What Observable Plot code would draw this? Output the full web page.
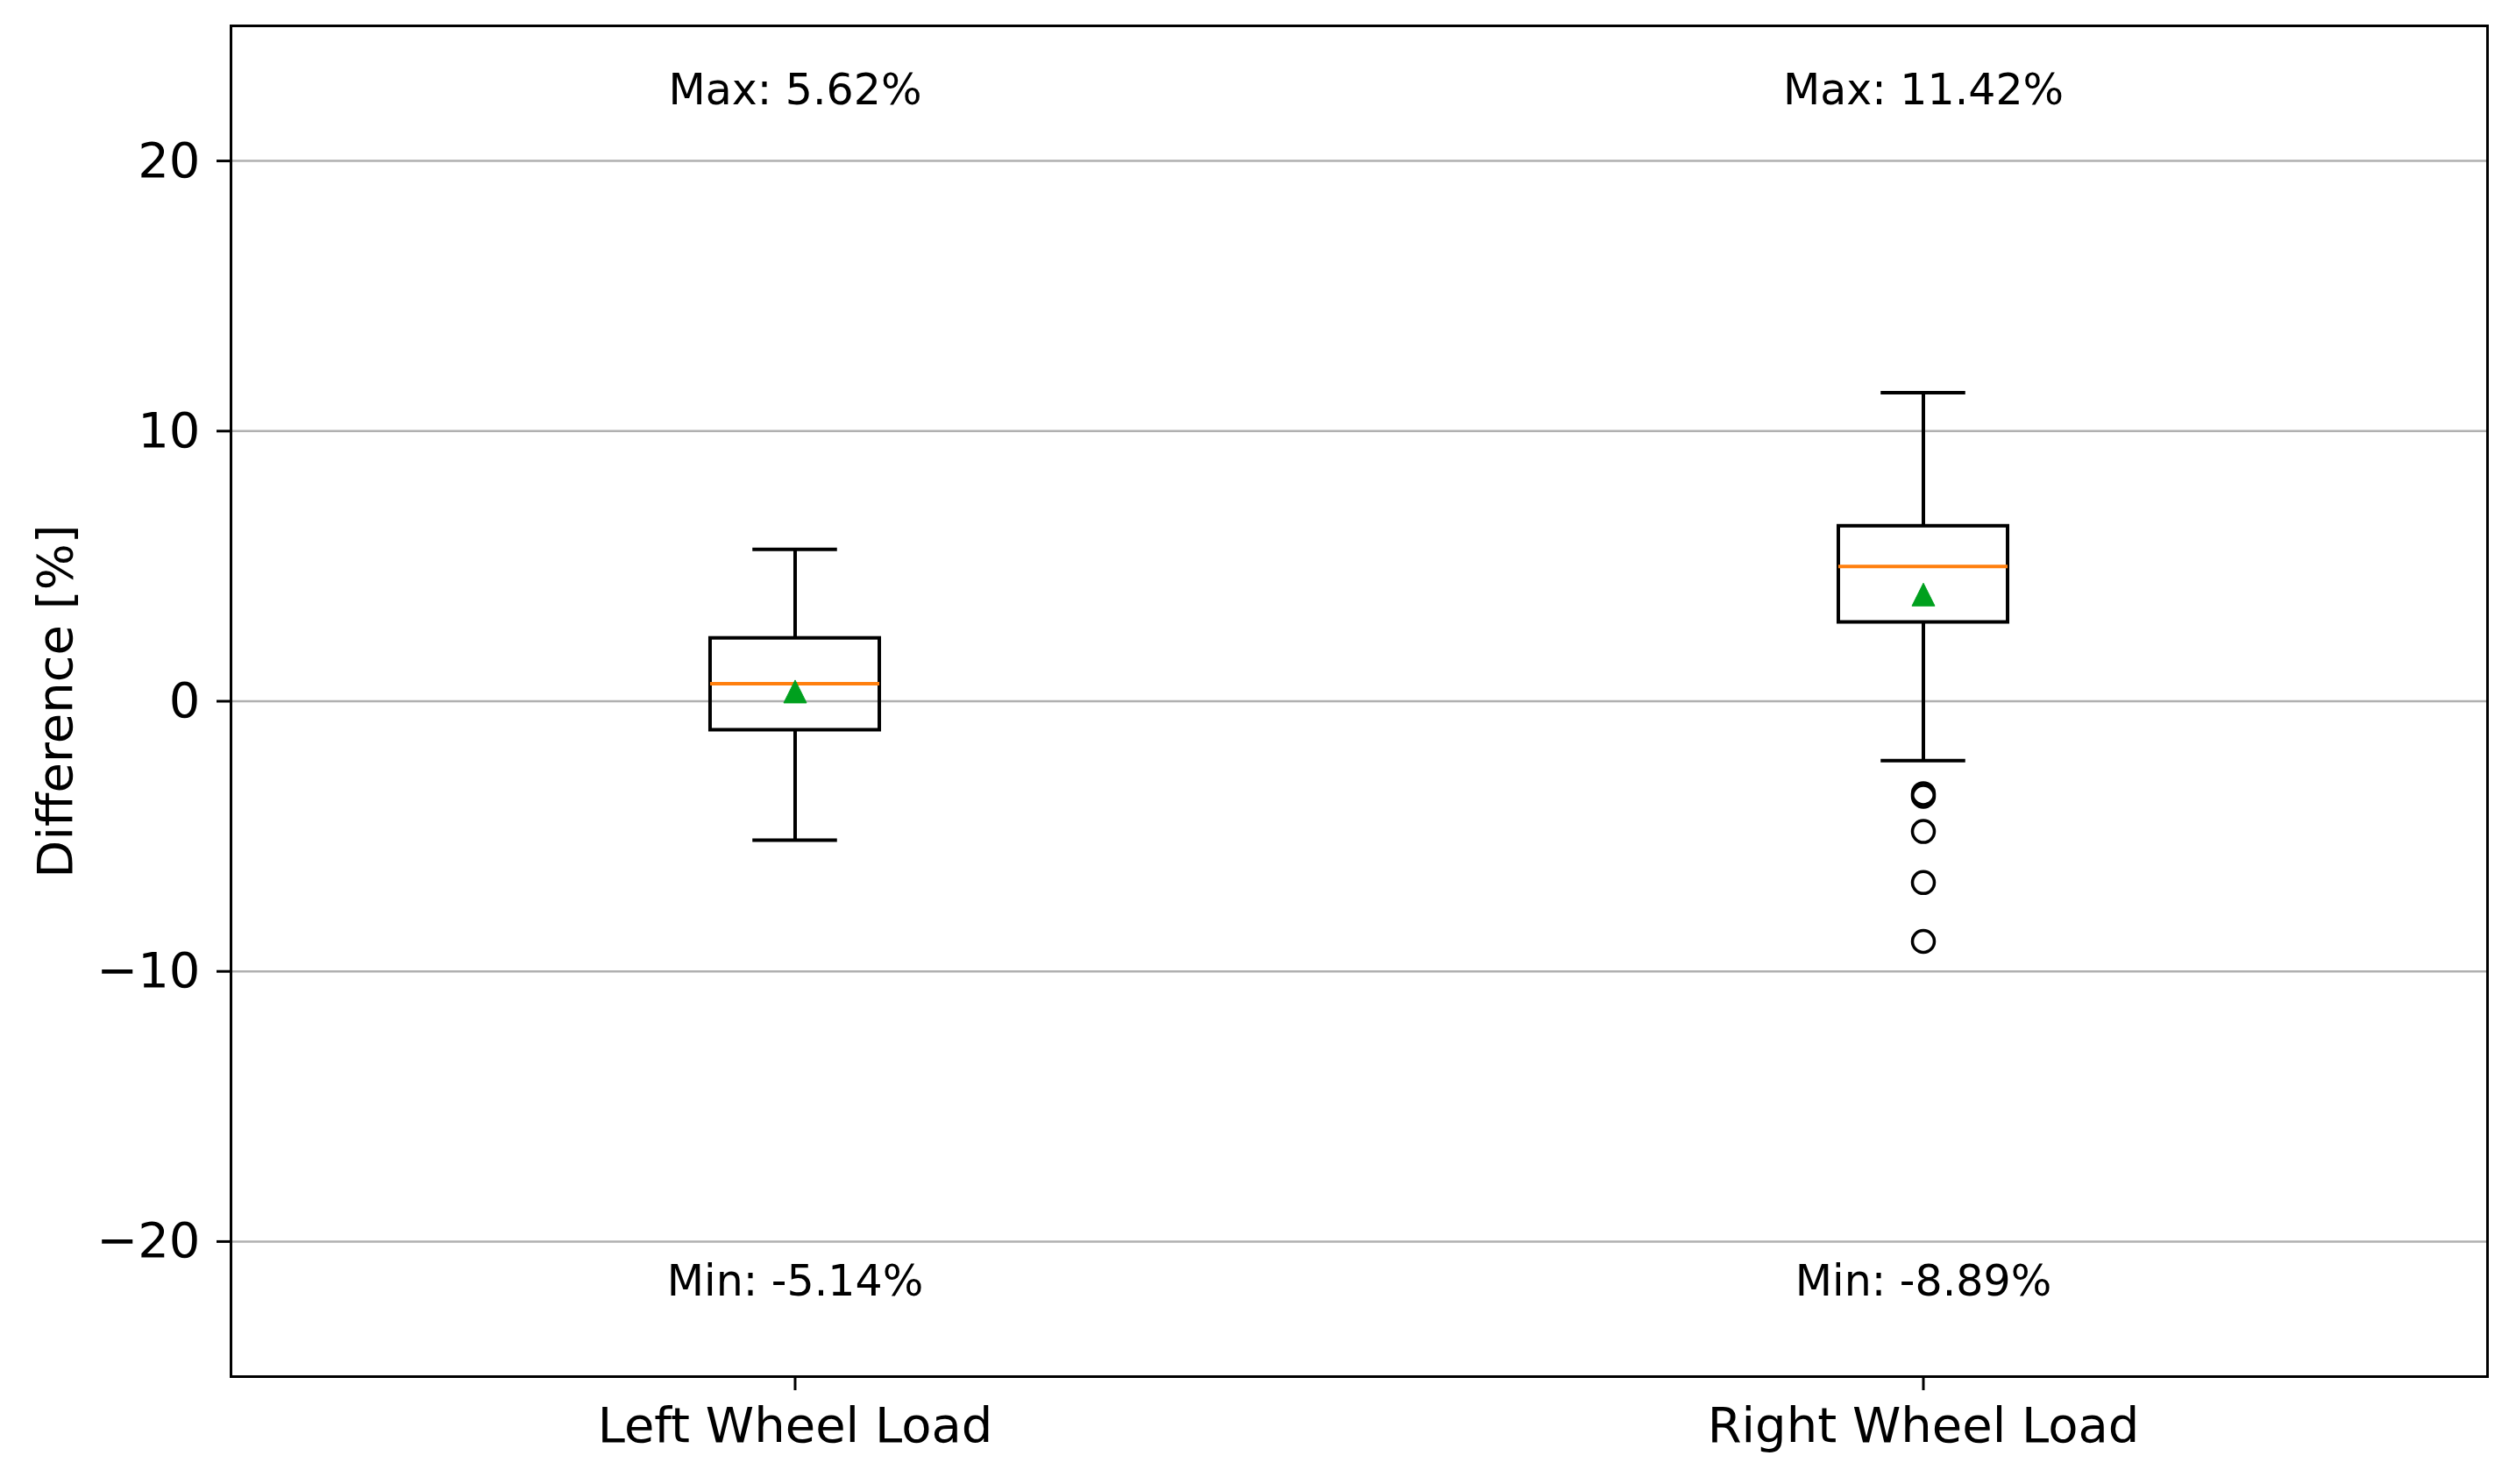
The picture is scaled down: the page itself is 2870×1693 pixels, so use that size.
<!DOCTYPE html>
<html><head><meta charset="utf-8">
<script src="https://cdn.jsdelivr.net/npm/d3@7"></script>
<script src="https://cdn.jsdelivr.net/npm/@observablehq/plot@0.6"></script>
<style>html,body{margin:0;padding:0;background:#fff;overflow:hidden}</style>
</head><body><div id="chart"></div>
<script>
// ---- data ----
const categories = ["Left Wheel Load", "Right Wheel Load"];
const positions = [1, 2];
const q1Values = [-1.07, 2.92];
const medianValues = [0.65, 4.99];
const q3Values = [2.33, 6.48];
const meanValues = [0.36, 3.95];
const whiskerLowValues = [-5.14, -2.20];
const whiskerHighValues = [5.62, 11.42];
const maxValues = [5.62, 11.42];
const minValues = [-5.14, -8.89];
const outlierCategories = ["Right Wheel Load", "Right Wheel Load", "Right Wheel Load", "Right Wheel Load", "Right Wheel Load"];
const outlierValues = [-3.42, -3.52, -4.82, -6.71, -8.89];
const yTicks = [-20, -10, 0, 10, 20];
const yLabel = "Difference [%]";

// ---- tables built from the arrays ----
const stats = categories.map((c, i) => ({
  category: c, pos: positions[i], q1: q1Values[i], median: medianValues[i], q3: q3Values[i],
  mean: meanValues[i], lo: whiskerLowValues[i], hi: whiskerHighValues[i], max: maxValues[i], min: minValues[i]
}));
const outliers = outlierValues.map((v, i) => ({pos: positions[categories.indexOf(outlierCategories[i])], value: v}));

const boxHalf = 0.075, capHalf = 0.0375;
const triangleUp = {
  draw(ctx, size) {
    const a = Math.sqrt(size / Math.PI);
    ctx.moveTo(0, -a); ctx.lineTo(a, a); ctx.lineTo(-a, a); ctx.closePath();
  }
};
const lw = 4;

const chart = Plot.plot({
  width: 2870, height: 1693,
  marginLeft: 263, marginRight: 33, marginTop: 29, marginBottom: 123,
  style: {fontFamily: "'DejaVu Sans', sans-serif", fontSize: "56px", color: "black", background: "white"},
  x: {type: "linear", domain: [0.5, 2.5]},
  y: {domain: [-25, 25]},
  marks: [
    Plot.gridY(yTicks, {stroke: "#b0b0b0", strokeOpacity: 1, strokeWidth: 2.5}),
    Plot.axisY({ticks: yTicks, tickSize: 16, tickPadding: 19, strokeWidth: 3, fontSize: 56, label: null, tickFormat: d3.format("d")}),
    Plot.axisX({ticks: positions, tickSize: 16, tickPadding: 19, strokeWidth: 3, fontSize: 56, label: null,
      tickFormat: d => categories[positions.indexOf(d)]}),
    Plot.text([yLabel], {frameAnchor: "left", dx: -199, rotate: -90, fontSize: 56, textAnchor: "middle", lineAnchor: "middle"}),
    // whiskers
    Plot.ruleX(stats, {x: "pos", y1: "q3", y2: "hi", stroke: "black", strokeWidth: lw}),
    Plot.ruleX(stats, {x: "pos", y1: "q1", y2: "lo", stroke: "black", strokeWidth: lw}),
    // caps
    Plot.ruleY(stats, {y: "hi", x1: d => d.pos - capHalf, x2: d => d.pos + capHalf, stroke: "black", strokeWidth: lw}),
    Plot.ruleY(stats, {y: "lo", x1: d => d.pos - capHalf, x2: d => d.pos + capHalf, stroke: "black", strokeWidth: lw}),
    // box
    Plot.rect(stats, {x1: d => d.pos - boxHalf, x2: d => d.pos + boxHalf, y1: "q1", y2: "q3", fill: "none", stroke: "black", strokeWidth: lw}),
    // median
    Plot.ruleY(stats, {y: "median", x1: d => d.pos - boxHalf, x2: d => d.pos + boxHalf, stroke: "#ff7f0e", strokeWidth: lw}),
    // outliers
    Plot.dot(outliers, {x: "pos", y: "value", r: 12.5, stroke: "black", strokeWidth: 3.5, fill: "none"}),
    // mean
    Plot.dot(stats, {x: "pos", y: "mean", r: 13, symbol: triangleUp, fill: "#00a01e", stroke: "#00a01e", strokeWidth: 1}),
    // annotations
    Plot.text(stats, {x: "pos", y: 22.6, text: d => `Max: ${d.max.toFixed(2)}%`, fontSize: 49, lineAnchor: "middle"}),
    Plot.text(stats, {x: "pos", y: -21.5, text: d => `Min: ${d.min.toFixed(2)}%`, fontSize: 49, lineAnchor: "middle"}),
    Plot.frame({stroke: "black", strokeWidth: 3})
  ]
});
document.getElementById("chart").appendChild(chart);
</script>
</body></html>
